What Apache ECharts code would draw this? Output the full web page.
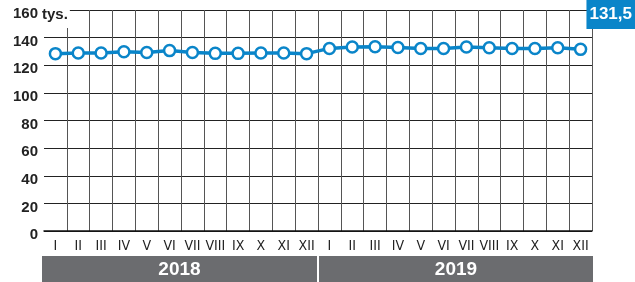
<!DOCTYPE html>
<html lang="pl">
<head>
  <meta charset="UTF-8">
  <title>Chart</title>
  <style>
    html, body { margin: 0; padding: 0; background: #fff; }
  </style>
</head>
<body>
  <div class="wrapper" style="width:635px;height:282px;"></div>

  <script src="https://cdn.jsdelivr.net/npm/echarts@6/dist/echarts.min.js"></script>
  <script>
    const months = ['I', 'II', 'III', 'IV', 'V', 'VI', 'VII', 'VIII', 'IX', 'X', 'XI', 'XII']
    const years = ['2018', '2019']
    const categories = years.flatMap(y => months.map(m => m + '|' + y))
    const values2018 = [128.4, 128.8, 128.8, 129.8, 129.3, 130.6, 129.3, 128.6, 128.6, 128.8, 128.8, 128.4]
    const values2019 = [132.2, 133.2, 133.4, 132.9, 132.2, 132.2, 133.2, 132.7, 132.2, 132.2, 132.7, 131.5]
    const values = values2018.concat(values2019)
    const yTicks = [0, 20, 40, 60, 80, 100, 120, 140, 160]

    const blue = '#0a85c9'
    const grey = '#6b6c6f'

    const echart = echarts.init(document.querySelector('.wrapper'))
    const option = {
      animation: false,
      grid: { left: 44, right: 43, top: 10, bottom: 51 },
      xAxis: {
        type: 'category',
        data: categories,
        boundaryGap: true,
        axisTick: { show: false },
        axisLine: { lineStyle: { color: '#111', width: 1.5 } },
        axisLabel: {
          interval: 0,
          margin: 8,
          color: '#222',
          fontSize: 14,
          fontFamily: 'Liberation Sans Narrow, DejaVu Sans Condensed, sans-serif',
          formatter: v => v.split('|')[0]
        },
        // no line on the left edge in the original
        splitLine: { show: true, interval: i => i !== 0, lineStyle: { color: '#555', width: 1 } }
      },
      yAxis: {
        type: 'value',
        min: yTicks[0],
        max: yTicks[yTicks.length - 1],
        interval: 20,
        axisLine: { show: false },
        axisTick: { show: false },
        axisLabel: {
          margin: 6,
          color: '#222',
          fontSize: 15,
          fontWeight: 'bold',
          fontFamily: 'Liberation Sans, Arial, sans-serif',
          verticalAlign: 'top',
          lineHeight: 8
        },
        splitLine: { lineStyle: { color: '#222', width: 1 } }
      },
      series: [{
        type: 'line',
        data: values,
        symbol: 'circle',
        symbolSize: 11,
        showAllSymbol: true,
        lineStyle: { color: blue, width: 3.5 },
        itemStyle: { color: '#fff', borderColor: blue, borderWidth: 2.5 },
        z: 3
      }]
    }
    echart.setOption(option)

    // year bands and annotations placed from the axis scale
    const x0 = echart.convertToPixel({ xAxisIndex: 0 }, categories[0])
    const x1 = echart.convertToPixel({ xAxisIndex: 0 }, categories[1])
    const band = x1 - x0
    const graphics = years.map((y, i) => {
      const first = echart.convertToPixel({ xAxisIndex: 0 }, categories[i * 12])
      const last = echart.convertToPixel({ xAxisIndex: 0 }, categories[i * 12 + 11])
      const left = first - band / 2 + (i === 0 ? -2 : 1)
      const right = last + band / 2 + (i === 0 ? -1 : 1)
      return {
        type: 'group',
        children: [{
          type: 'rect',
          shape: { x: left, y: 256, width: right - left, height: 26 },
          style: { fill: grey }
        }, {
          type: 'text',
          x: (left + right) / 2,
          y: 270,
          style: {
            text: y, fill: '#fff', fontSize: 19, fontWeight: 'bold',
            fontFamily: 'Liberation Sans, Arial, sans-serif',
            align: 'center', verticalAlign: 'middle'
          }
        }]
      }
    })
    graphics.push({
      type: 'text',
      left: 42,
      top: 5,
      z: 10,
      style: {
        text: 'tys.', fill: '#222', fontSize: 15, fontWeight: 'bold',
        fontFamily: 'Liberation Sans, Arial, sans-serif',
        backgroundColor: '#fff', padding: [2, 2, 6, 0]
      }
    })
    graphics.push({
      type: 'text',
      right: 0,
      top: 0,
      z: 10,
      style: {
        text: values[values.length - 1].toFixed(1).replace('.', ','),
        fill: '#fff', fontSize: 17, fontWeight: 'bold',
        fontFamily: 'Liberation Sans, Arial, sans-serif',
        backgroundColor: blue, padding: [6, 3, 6, 3]
      }
    })
    echart.setOption({ graphic: graphics })
  </script>
</body>
</html>
